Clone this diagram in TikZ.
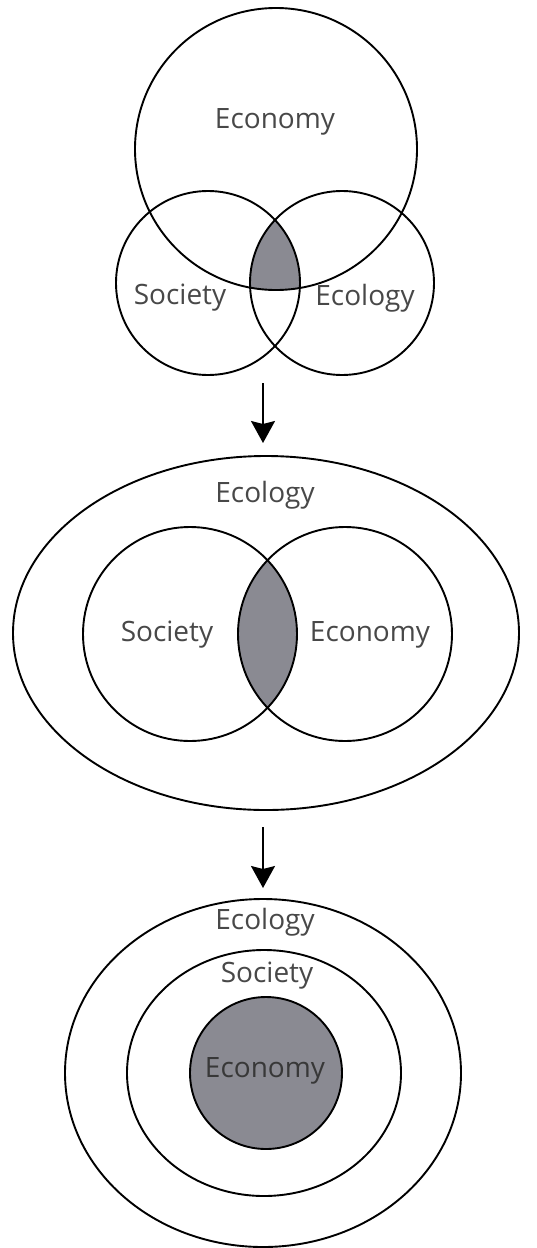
\documentclass[tikz,border=0pt]{standalone}
\usepackage{fontspec}
\setmainfont{Open Sans}
\usetikzlibrary{shapes.geometric,arrows.meta,calc,positioning,backgrounds}

\definecolor{lensgray}{RGB}{138,138,146}
\definecolor{labelgray}{RGB}{72,72,72}

\begin{document}
\begin{tikzpicture}[x=1pt,y=-1pt,
  ring/.style={draw,circle,line width=1.9pt,inner sep=0pt,outer sep=0pt},
  oval/.style={draw,ellipse,line width=1.9pt,inner sep=0pt,outer sep=0pt},
  lbl/.style={text=labelgray,font=\fontsize{28}{31}\selectfont,inner sep=0pt},
  down/.style={line width=1.8pt,-{Stealth[length=22pt,width=24pt,inset=3pt]}}]

        \useasboundingbox (0,0) rectangle (536,1248);

        % venn of three
        \node (EcoA) [ring,minimum size=282] at (276,149) {};
        \node (SocA) [ring,minimum size=184] at (208,283) {};
        \node (EclA) [ring,minimum size=184] at (342,283) {};
        \begin{scope}[on background layer]
          \begin{scope}
            \clip (EcoA.center) circle (141);
            \clip (SocA.center) circle (92);
            \fill[lensgray] (EclA.center) circle (92);
          \end{scope}
        \end{scope}
        \node (tEcoA) [lbl] at (275,122) {Economy};
        \node (tSocA) [lbl] at (180,298) {Society};
        \node (tEclA) [lbl] at (365,298) {Ecology};

        \coordinate (s1) at (263,383);
        \coordinate (e1) at (263,443);
        \draw[down] (s1) -- (e1);

        % two inside ecology
        \node (EclB) [oval,minimum width=506,minimum height=354] at (266,633) {};
        \node (SocB) [ring,minimum size=214] at (190,634) {};
        \node (EcoB) [ring,minimum size=214] at (345,634) {};
        \begin{scope}[on background layer]
          \begin{scope}
            \clip (SocB.center) circle (107);
            \fill[lensgray] (EcoB.center) circle (107);
          \end{scope}
        \end{scope}
        \node (tEclB) [lbl] at (265,495) {Ecology};
        \node (tSocB) [lbl] at (167,635) {Society};
        \node (tEcoB) [lbl] at (370,635) {Economy};

        \coordinate (s2) at (263,827);
        \coordinate (e2) at (263,888);
        \draw[down] (s2) -- (e2);

        % nested
        \node (EclC) [oval,minimum width=396,minimum height=348] at (263,1073) {};
        \node (SocC) [oval,minimum width=274,minimum height=246] at (264,1073) {};
        \node (EcoC) [ring,fill=lensgray,minimum size=152] at (266,1073) {};
        \node (tEclC) [lbl] at (265,922) {Ecology};
        \node (tSocC) [lbl] at (267,976) {Society};
        \node (tEcoC) [lbl,text=black!78] at (265,1071) {Economy};
      \end{tikzpicture}
\end{document}
